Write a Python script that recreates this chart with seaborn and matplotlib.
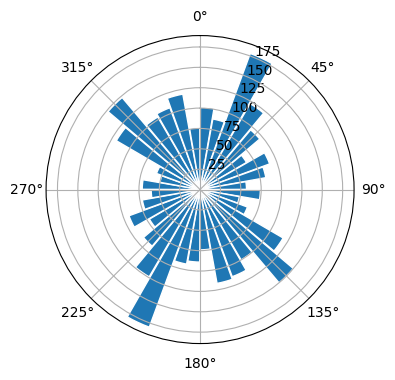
import numpy as np
import pandas as pd
import matplotlib
matplotlib.use("Agg")
import matplotlib.pyplot as plt
import seaborn as sns

# bin centres (degrees) and bar heights
angles_deg = [5, 15, 25, 35, 45, 55, 65, 75, 85,
              95, 105, 115, 125, 135, 145, 155, 165, 175,
              185, 195, 205, 215, 225, 235, 245, 255, 265,
              275, 285, 295, 305, 315, 325, 335, 345, 355]
counts = [101, 88, 178, 122, 96, 66, 91, 82, 57,
          74, 49, 62, 118, 150, 100, 114, 117, 74,
          89, 93, 180, 124, 91, 72, 93, 72, 60,
          71, 50, 57, 119, 148, 103, 107, 119, 76]
r_ticks = [25, 50, 75, 100, 125, 150, 175]
theta_ticks = [0, 45, 90, 135, 180, 225, 270, 315]

df = pd.DataFrame({"theta": np.deg2rad(angles_deg), "count": counts})

plt.rcdefaults()
plt.rcParams["font.family"] = ["DejaVu Sans"]

fig = plt.figure(figsize=(4, 4), dpi=100)
ax = fig.add_subplot(projection="polar")
ax.set_theta_zero_location("N")
ax.set_theta_direction(-1)

sns.barplot(data=df, x="theta", y="count", native_scale=True, width=0.95,
            color="#1f77b4", saturation=1, errorbar=None,
            edgecolor="white", linewidth=1.0, ax=ax)

ax.set_xlabel("")
ax.set_ylabel("")
ax.set_axisbelow("line")
ax.grid(True)
ax.set_xticks(np.deg2rad(theta_ticks))
ax.set_xticklabels([f"{d}\u00b0" for d in theta_ticks])
ax.set_yticks(r_ticks)
ax.set_yticklabels([str(v) for v in r_ticks])
ax.set_rlabel_position(22.5)

fig.savefig("out.png", bbox_inches="tight")
